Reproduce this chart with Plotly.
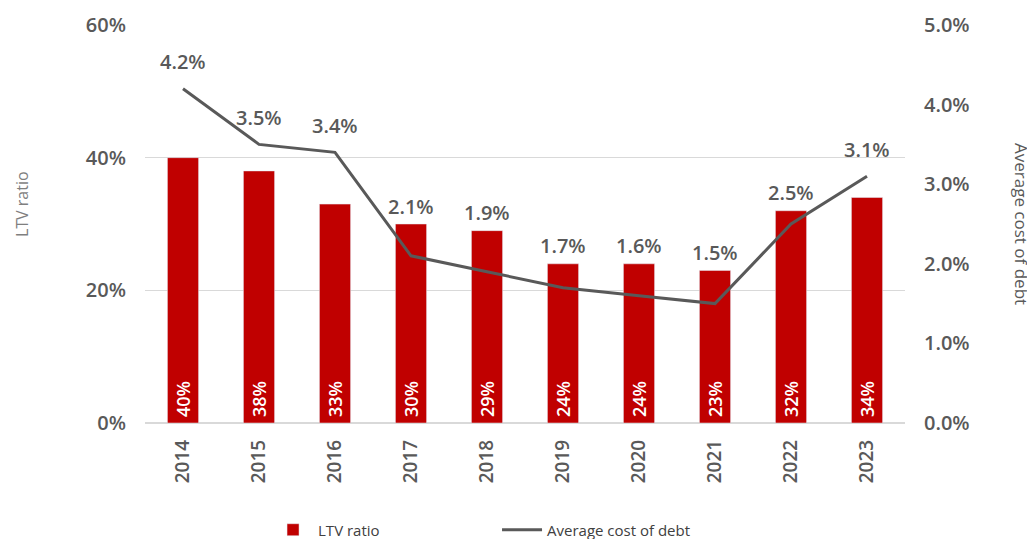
import plotly.graph_objects as go

years = ["2014", "2015", "2016", "2017", "2018", "2019", "2020", "2021", "2022", "2023"]
ltv = [40, 38, 33, 30, 29, 24, 24, 23, 32, 34]
cost_of_debt = [4.2, 3.5, 3.4, 2.1, 1.9, 1.7, 1.6, 1.5, 2.5, 3.1]

RED = "#C00000"
GREY = "#595959"
FONT = "Open Sans"

W, H = 1027, 531
ML, MR, MT, MB = 137, 130, 17, 116
Y1_MAX, Y2_MAX = 60, 5
plot_h = H - MT - MB
upp = Y2_MAX / plot_h  # y2 units per pixel

fig = go.Figure()
fig.add_trace(go.Bar(
    x=years, y=ltv, name="LTV ratio", marker_color=RED, width=0.41,
    text=[f"\u2009{v}%" for v in ltv], textposition="inside", insidetextanchor="start",
    textangle=-90, textfont=dict(color="white", size=18, family=FONT, weight=600),
))
fig.add_trace(go.Scatter(
    x=years, y=cost_of_debt, name="Average cost of debt", yaxis="y2",
    mode="lines", line=dict(color=GREY, width=3),
))

# data labels for the line: placed above the point, or above the bar when it is higher
annotations = []
for i, (c, b) in enumerate(zip(cost_of_debt, ltv)):
    bar_top = b * Y2_MAX / Y1_MAX
    if bar_top + 18 * upp > c + 27 * upp:
        yy, sh = bar_top, 18
    else:
        yy, sh = c, 27
    annotations.append(dict(
        x=i, y=yy, xref="x", yref="y2", yshift=sh, text=f"{c:.1f}%",
        showarrow=False, yanchor="middle", xanchor="center",
        font=dict(size=20, color=GREY, family=FONT, weight=600),
    ))

annotations += [
    dict(text="LTV ratio", xref="paper", yref="paper", x=-ML / (W - ML - MR) + 14 / (W - ML - MR),
         y=0.55, textangle=-90, showarrow=False, font=dict(size=16, color="#7F7F7F"),
         xanchor="center", yanchor="middle"),
    dict(text="Average cost of debt", xref="paper", yref="paper",
         x=1 + (1014 - (W - MR)) / (W - ML - MR), y=0.50,
         textangle=90, showarrow=False, font=dict(size=17, color=GREY),
         xanchor="center", yanchor="middle"),
]

fig.update_layout(
    width=W, height=H,
    margin=dict(l=ML, r=MR, t=MT, b=MB, autoexpand=False),
    paper_bgcolor="white", plot_bgcolor="white",
    font=dict(family=FONT, color=GREY, size=16),
    showlegend=True,
    legend=dict(orientation="h", xref="container", yref="container",
                x=0.2532, xanchor="left", y=0.017, yanchor="middle",
                font=dict(size=15, color="#404040"), itemwidth=40, tracegroupgap=0,
                entrywidth=174),
    xaxis=dict(type="category", range=[-0.5, len(years) - 0.5], tickangle=-90,
               showgrid=False, showline=False,
               ticks="", tickfont=dict(size=19, color=GREY, weight=600), automargin=False,
               ticklabelstandoff=12),
    yaxis=dict(range=[0, Y1_MAX], tickvals=[0, 20, 40, 60], ticktext=["0%", "20%", "40%", "60%"],
               showgrid=True, gridcolor="#D9D9D9", gridwidth=1, zeroline=True,
               zerolinecolor="#D9D9D9", tickfont=dict(size=20, color=GREY, weight=600), ticks="",
               ticklabelstandoff=18, automargin=False),
    yaxis2=dict(range=[0, Y2_MAX], overlaying="y", side="right", tickvals=[0, 1, 2, 3, 4, 5],
                ticktext=["0.0%", "1.0%", "2.0%", "3.0%", "4.0%", "5.0%"],
                showgrid=False, zeroline=False, tickfont=dict(size=20, color=GREY, weight=600),
                ticks="", ticklabelstandoff=18, automargin=False),
    annotations=annotations,
)

fig.write_html("out.html")
